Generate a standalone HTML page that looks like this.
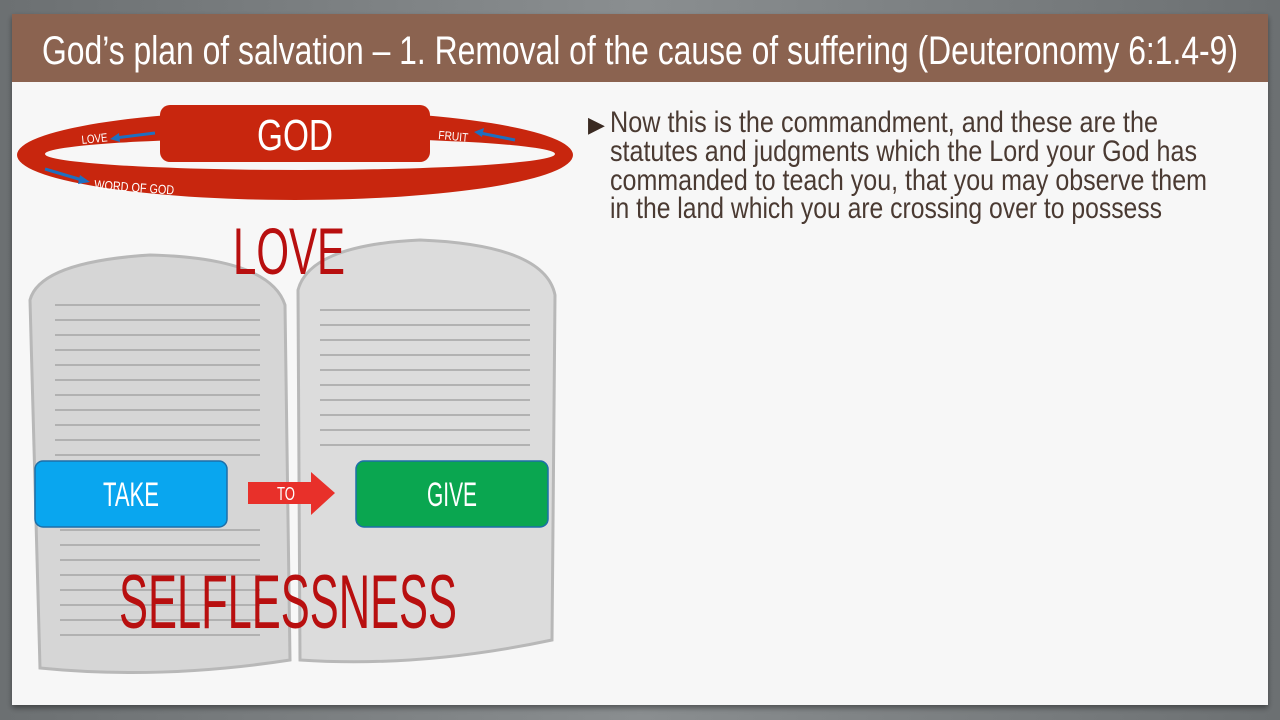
<!DOCTYPE html>
<html><head><meta charset="utf-8"><style>
html,body{margin:0;padding:0;width:1280px;height:720px;overflow:hidden;background:#7a7e80;}
svg{display:block}
text{font-family:"Liberation Sans",sans-serif;}
</style></head><body>
<svg width="1280" height="720" viewBox="0 0 1280 720">
<defs>
<linearGradient id="bg" x1="0" y1="0" x2="1" y2="0"><stop offset="0" stop-color="#6c7072"/><stop offset="0.5" stop-color="#8a8e90"/><stop offset="1" stop-color="#6c7072"/></linearGradient>
<filter id="sh"><feDropShadow dx="0" dy="3" stdDeviation="3" flood-opacity="0.4"/></filter>
</defs>
<rect width="1280" height="720" fill="url(#bg)"/>
<rect x="12" y="14" width="1256" height="691" fill="#f7f7f7" filter="url(#sh)"/>
<rect x="12" y="14" width="1256" height="68" fill="#8b6350"/>
<text x="42" y="64" font-size="40" fill="#fff" textLength="1196" lengthAdjust="spacingAndGlyphs">God’s plan of salvation – 1. Removal of the cause of suffering (Deuteronomy 6:1.4-9)</text>

<!-- ring -->
<path fill="#c8260e" fill-rule="evenodd" d="M17 155 A278 45 0 1 0 573 155 A278 45 0 1 0 17 155 Z M45 154 A255 16 0 1 0 555 154 A255 16 0 1 0 45 154 Z"/>
<rect x="160" y="105" width="270" height="57" rx="10" fill="#c8260e"/>
<text x="295" y="150" font-size="44" fill="#fff" text-anchor="middle" textLength="76" lengthAdjust="spacingAndGlyphs">GOD</text>
<text x="82" y="144" font-size="12" fill="#fff" transform="rotate(-6 82 144)" textLength="26" lengthAdjust="spacingAndGlyphs">LOVE</text>
<path d="M115 138 L155 133" stroke="#1e6fc0" stroke-width="3"/><path d="M110 139 l9 -6 l1 9z" fill="#1e6fc0"/>
<text x="438" y="139" font-size="12" fill="#fff" transform="rotate(5 438 139)" textLength="30" lengthAdjust="spacingAndGlyphs">FRUIT</text>
<path d="M480 133 L515 140" stroke="#1e6fc0" stroke-width="3"/><path d="M474 132 l10 -4 l-2 9z" fill="#1e6fc0"/>
<path d="M45 169 L82 180" stroke="#1e6fc0" stroke-width="3"/><path d="M90 182 l-10 -7 l-2 9z" fill="#1e6fc0"/>
<text x="94" y="189" font-size="13" fill="#fff" transform="rotate(4 94 189)" textLength="80" lengthAdjust="spacingAndGlyphs">WORD OF GOD</text>

<!-- tablets -->
<path d="M30 300 Q40 262 150 255 Q270 258 285 305 L290 660 Q160 680 40 668 Z" fill="#d6d6d6" stroke="#b8b8b8" stroke-width="3"/>
<path d="M298 290 Q310 245 420 240 Q545 245 555 295 L552 640 Q420 668 300 660 Z" fill="#dcdcdc" stroke="#b8b8b8" stroke-width="3"/>
<g stroke="#a8a8a8" stroke-width="2" opacity="0.8">
<path d="M55 305h205M55 320h205M55 335h205M55 350h205M55 365h205M55 380h205M55 395h205M55 410h205M55 425h205M55 440h205M55 455h205M60 530h200M60 545h200M60 560h200M60 575h200M60 590h200M60 605h200M60 620h200M60 635h200"/>
<path d="M320 310h210M320 325h210M320 340h210M320 355h210M320 370h210M320 385h210M320 400h210M320 415h210M320 430h210M320 445h210"/>
</g>
<text x="289" y="274" font-size="66" fill="#b80f0f" text-anchor="middle" textLength="112" lengthAdjust="spacingAndGlyphs">LOVE</text>

<rect x="35" y="461" width="192" height="66" rx="8" fill="#09a6ef" stroke="#1d6fa8" stroke-width="1.5"/>
<text x="131" y="506" font-size="34" fill="#fff" text-anchor="middle" textLength="56" lengthAdjust="spacingAndGlyphs">TAKE</text>
<rect x="356" y="461" width="192" height="66" rx="8" fill="#0aa650" stroke="#1d6fa8" stroke-width="1.5"/>
<text x="452" y="506" font-size="34" fill="#fff" text-anchor="middle" textLength="50" lengthAdjust="spacingAndGlyphs">GIVE</text>
<path d="M248 482 H311 V472 L335 493 L311 515 V504 H248 Z" fill="#e8302a"/>
<text x="286" y="500" font-size="18" fill="#fff" text-anchor="middle" textLength="18" lengthAdjust="spacingAndGlyphs">TO</text>
<text x="288" y="628" font-size="76" fill="#b80f0f" text-anchor="middle" textLength="338" lengthAdjust="spacingAndGlyphs">SELFLESSNESS</text>

<!-- body -->
<g font-size="30" fill="#4a3a32">
<text x="588" y="132" font-size="22" fill="#3a2a22">▶</text>
<text x="610" y="132" textLength="548" lengthAdjust="spacingAndGlyphs">Now this is the commandment, and these are the</text>
<text x="610" y="161" textLength="587" lengthAdjust="spacingAndGlyphs">statutes and judgments which the Lord your God has</text>
<text x="610" y="190" textLength="597" lengthAdjust="spacingAndGlyphs">commanded to teach you, that you may observe them</text>
<text x="610" y="218" textLength="552" lengthAdjust="spacingAndGlyphs">in the land which you are crossing over to possess</text>
</g>
</svg>
</body></html>
